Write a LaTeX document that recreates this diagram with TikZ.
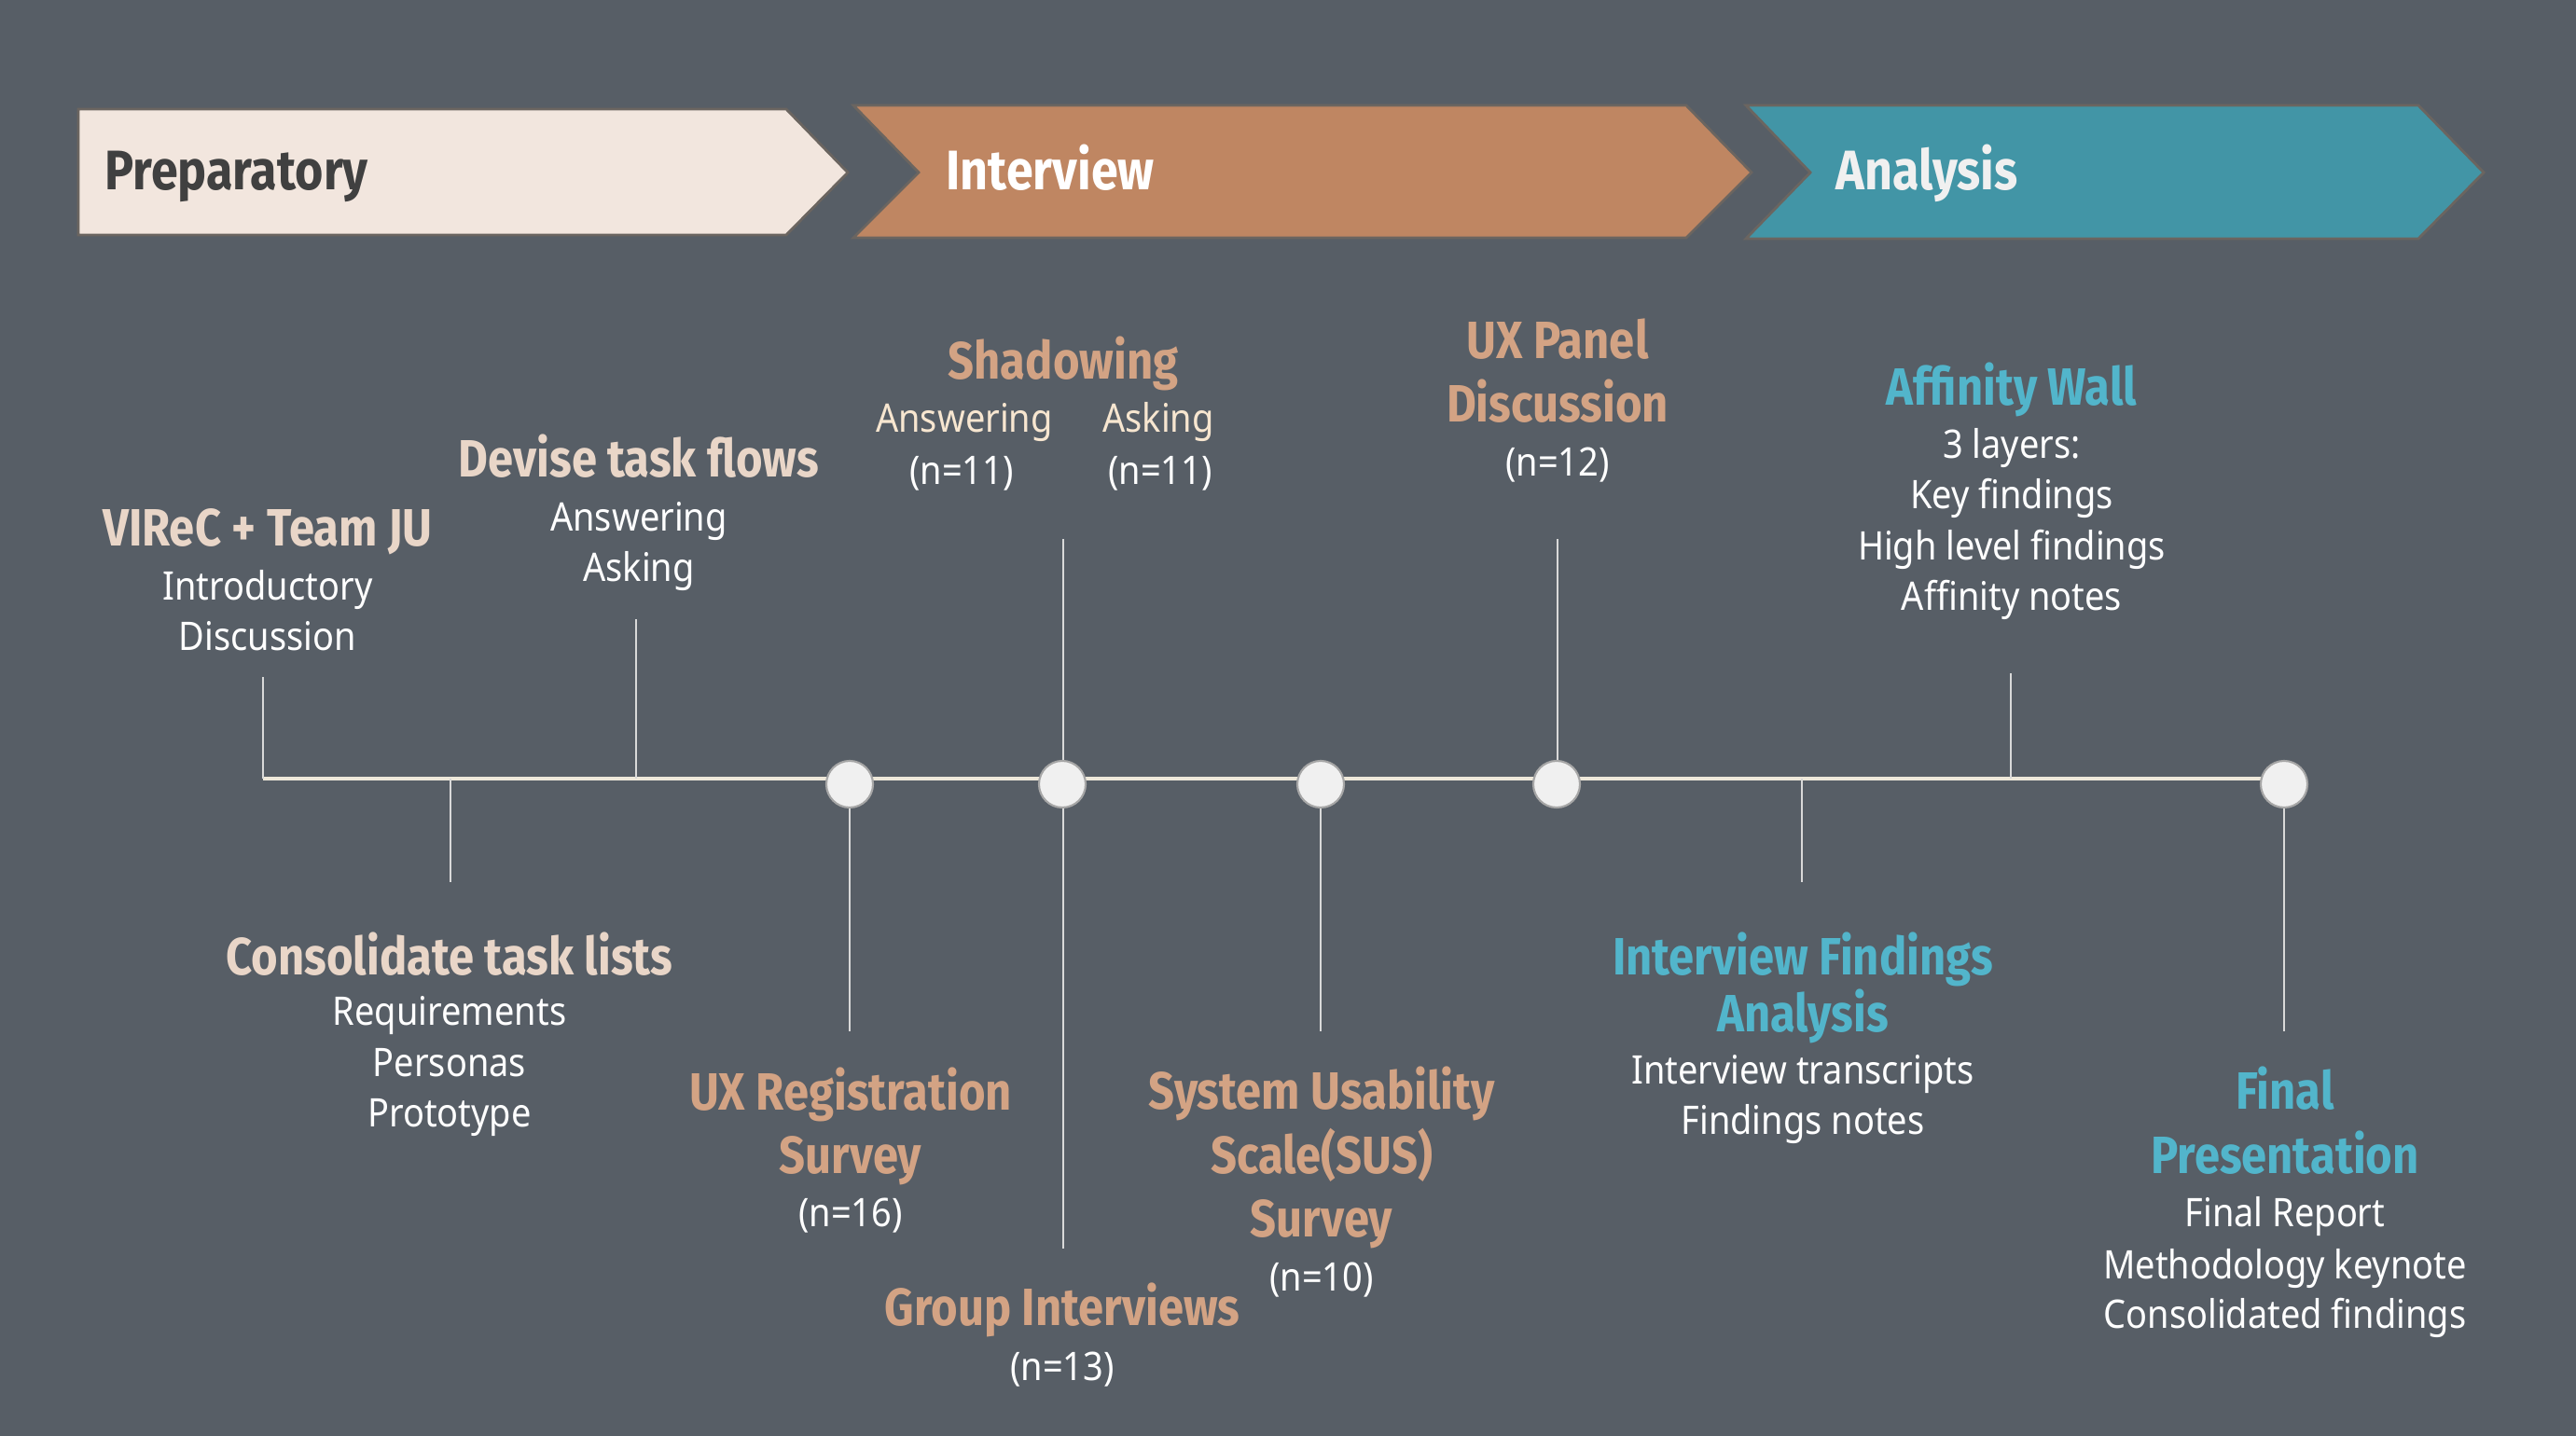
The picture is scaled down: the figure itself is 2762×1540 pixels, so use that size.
\documentclass[tikz,border=0pt]{standalone}
\usepackage{fontspec}
\newfontfamily\headfont{Fira Sans}[FakeStretch=0.87]
\newfontfamily\bodyfont{Noto Sans}[FakeStretch=0.9]
\definecolor{bg}{HTML}{575E66}
\definecolor{prepfill}{HTML}{F2E6DE}
\definecolor{intfill}{HTML}{BF8662}
\definecolor{anafill}{HTML}{4295A6}
\definecolor{prephead}{HTML}{E9D6C8}
\definecolor{inthead}{HTML}{D3A384}
\definecolor{anahead}{HTML}{52B5CB}
\definecolor{cream}{HTML}{F7E6D0}
\definecolor{tlcol}{HTML}{EEE8DA}
\definecolor{tickcol}{HTML}{D9D9D9}
\definecolor{dotfill}{HTML}{F0F0F0}
\definecolor{darktxt}{HTML}{404040}
\definecolor{edgecol}{HTML}{6B6560}
\begin{document}
\begin{tikzpicture}[x=0.01cm,y=-0.01cm,
  phase/.style={line width=0.8pt,draw=edgecol},
  phaselabel/.style={anchor=base west,inner sep=0,font=\headfont\bfseries\fontsize{17}{20}\selectfont},
  head/.style={anchor=base,inner sep=0,font=\headfont\bfseries\fontsize{16}{19}\selectfont},
  body/.style={anchor=base,inner sep=0,text=white,font=\bodyfont\fontsize{12}{14}\selectfont},
  tl/.style={draw=tlcol,line width=1.4pt},
  tick/.style={draw=tickcol,line width=0.6pt},
  dot/.style={circle,minimum size=0.5cm,inner sep=0,fill=dotfill,draw=gray!70,line width=0.6pt}]
\fill[bg] (0,0) rectangle (2762,1540);
\useasboundingbox (0,0) rectangle (2762,1540);
% phase arrows
\filldraw[phase,fill=prepfill] (84,117) -- (843,117) -- (909,185) -- (843,252) -- (84,252) -- cycle;
\filldraw[phase,fill=intfill] (915,113) -- (1808,113) -- (1878,185) -- (1808,255) -- (915,255) -- (985,185) -- cycle;
\filldraw[phase,fill=anafill] (1872,113) -- (2593,113) -- (2663,185) -- (2593,256) -- (1872,256) -- (1941,185) -- cycle;
\node[phaselabel,text=darktxt] (pprep) at (112,204) {Preparatory};
\node[phaselabel,text=white] (pint) at (1014,204) {Interview};
\node[phaselabel,text=dotfill] (pana) at (1968,204) {Analysis};
% timeline
\coordinate (tlstart) at (282,835);
\coordinate (tlend) at (2449,835);
\draw[tl] (tlstart) -- (tlend);
% tick end points
\coordinate (ta) at (282,726);
\coordinate (tb) at (483,835); \coordinate (tbe) at (483,946);
\coordinate (tc) at (682,835); \coordinate (tce) at (682,664);
\coordinate (td) at (911,1106);
\coordinate (te) at (1140,578); \coordinate (tf) at (1140,1339);
\coordinate (tg) at (1416,1106);
\coordinate (th) at (1670,578);
\coordinate (ti) at (1932,835); \coordinate (tie) at (1932,946);
\coordinate (tj) at (2156,835); \coordinate (tje) at (2156,722);
\coordinate (tk) at (2449,1106);
\draw[tick] (tlstart) -- (ta);
\draw[tick] (tb) -- (tbe);
\draw[tick] (tc) -- (tce);
\draw[tick] (ti) -- (tie);
\draw[tick] (tj) -- (tje);
\draw[tick] (1140,835) -- (te);
\draw[tick] (1140,835) -- (tf);
\draw[tick] (911,835) -- (td);
\draw[tick] (1416,835) -- (tg);
\draw[tick] (1670,835) -- (th);
\draw[tick] (2449,835) -- (tk);
% dots
\node[dot] (c1) at (911,841) {};
\node[dot] (c2) at (1139,841) {};
\node[dot] (c3) at (1416,841) {};
\node[dot] (c4) at (1669,841) {};
\node[dot] (c5) at (2449,841) {};
% VIReC
\node[head,text=prephead] (vh) at (287,586) {VIReC + Team JU};
\node[body] (vb1) at (287,644) {Introductory};
\node[body] (vb2) at (287,698) {Discussion};
% Devise
\node[head,text=prephead] (dh) at (685,512) {Devise task flows};
\node[body] (db1) at (685,570) {Answering};
\node[body] (db2) at (685,624) {Asking};
% Shadowing
\node[head,text=inthead] (sh) at (1140,407) {Shadowing};
\node[body,text=cream] (sb1) at (1034,464) {Answering};
\node[body,text=cream] (sb2) at (1242,464) {Asking};
\node[body] (sb3) at (1031,520) {(n=11)};
\node[body] (sb4) at (1244,520) {(n=11)};
% UX panel
\node[head,text=inthead] (uh1) at (1670,385) {UX Panel};
\node[head,text=inthead] (uh2) at (1670,453) {Discussion};
\node[body] (ub1) at (1670,511) {(n=12)};
% Affinity
\node[head,text=anahead] (ah) at (2157,435) {Affinity Wall};
\node[body] (ab1) at (2157,492) {3 layers:};
\node[body] (ab2) at (2157,546) {Key findings};
\node[body] (ab3) at (2157,601) {High level findings};
\node[body] (ab4) at (2157,655) {Affinity notes};
% Consolidate
\node[head,text=prephead] (ch) at (482,1046) {Consolidate task lists};
\node[body] (cb1) at (482,1100) {Requirements};
\node[body] (cb2) at (482,1155) {Personas};
\node[body] (cb3) at (482,1209) {Prototype};
% UX registration
\node[head,text=inthead] (rh1) at (912,1191) {UX Registration};
\node[head,text=inthead] (rh2) at (912,1258) {Survey};
\node[body] (rb1) at (912,1316) {(n=16)};
% Group interviews
\node[head,text=inthead] (gh) at (1139,1422) {Group Interviews};
\node[body] (gb1) at (1139,1480) {(n=13)};
% SUS
\node[head,text=inthead] (yh1) at (1417,1190) {System Usability};
\node[head,text=inthead] (yh2) at (1417,1258) {Scale(SUS)};
\node[head,text=inthead] (yh3) at (1417,1327) {Survey};
\node[body] (yb1) at (1417,1385) {(n=10)};
% Interview findings
\node[head,text=anahead] (ih1) at (1933,1046) {Interview Findings};
\node[head,text=anahead] (ih2) at (1933,1107) {Analysis};
\node[body] (ib1) at (1933,1163) {Interview transcripts};
\node[body] (ib2) at (1933,1217) {Findings notes};
% Final
\node[head,text=anahead] (fh1) at (2450,1190) {Final};
\node[head,text=anahead] (fh2) at (2450,1258) {Presentation};
\node[body] (fb1) at (2450,1316) {Final Report};
\node[body] (fb2) at (2450,1371) {Methodology keynote};
\node[body] (fb3) at (2450,1425) {Consolidated findings};
\end{tikzpicture}
\end{document}
